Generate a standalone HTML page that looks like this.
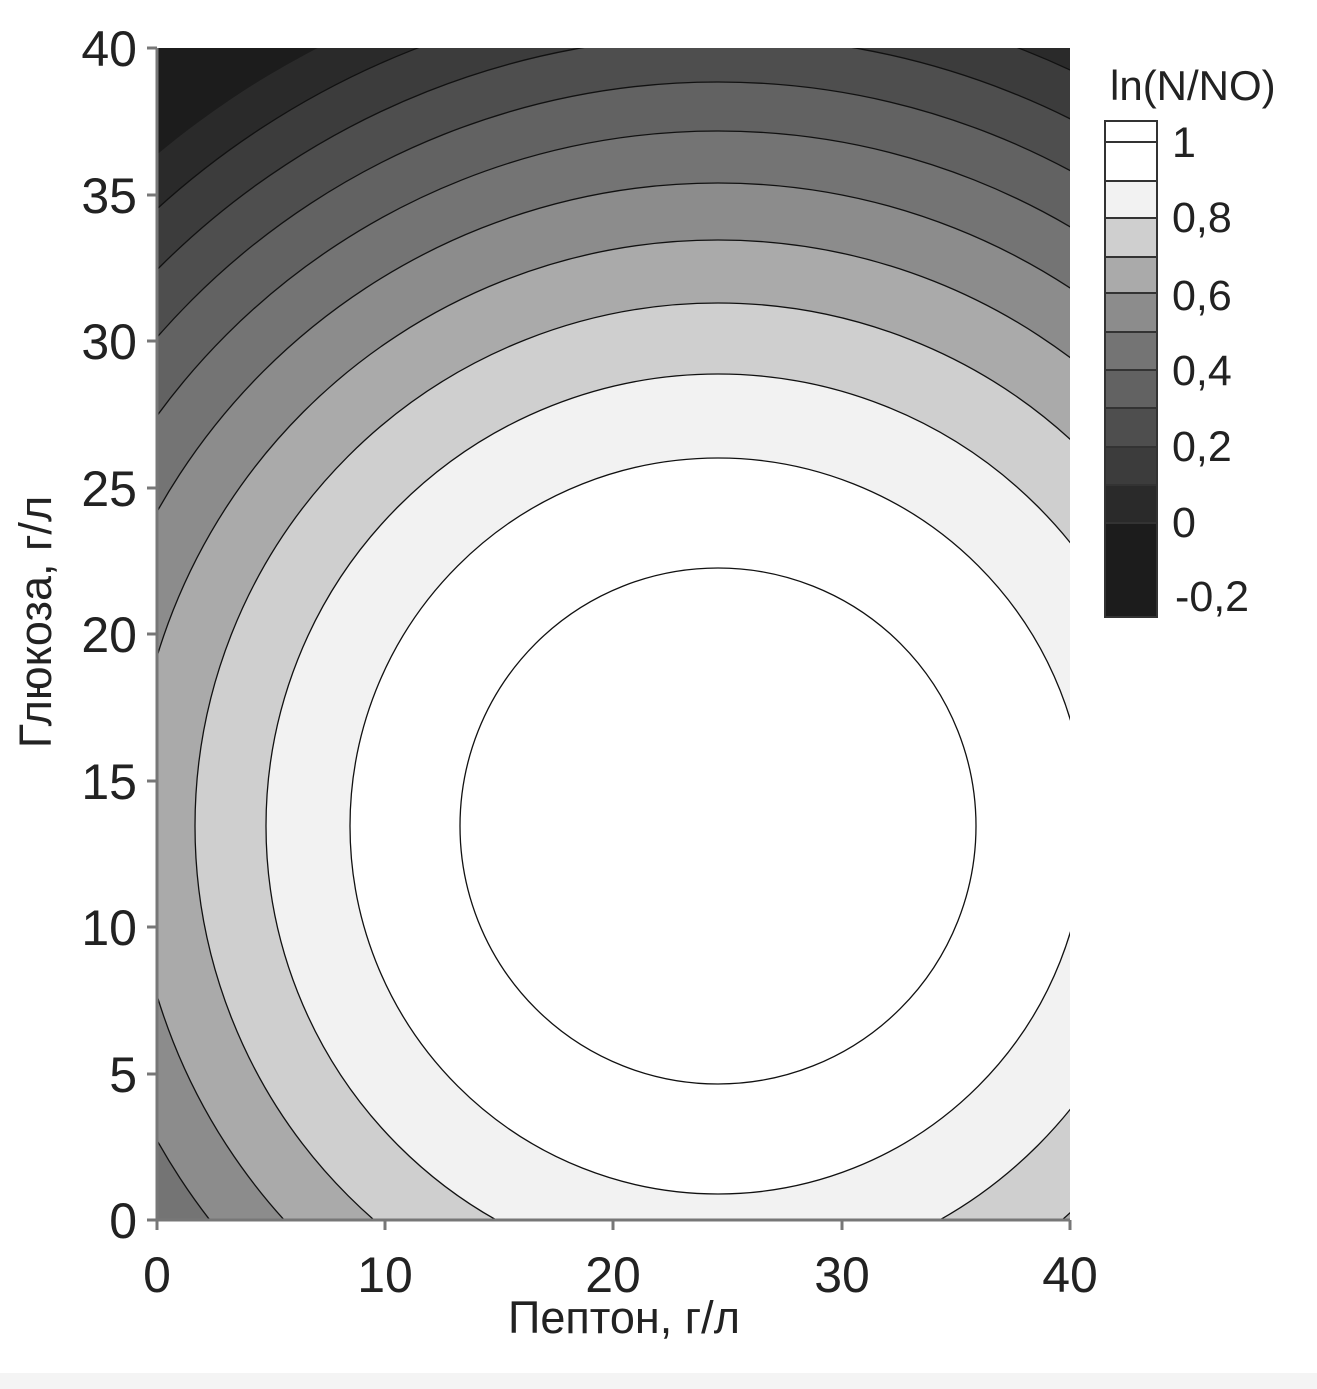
<!DOCTYPE html>
<html><head><meta charset="utf-8"><style>
html,body{margin:0;background:#fff;overflow:hidden;width:1317px;height:1389px;}
svg{display:block;font-family:"Liberation Sans",sans-serif;}
</style></head><body>
<svg width="1317" height="1389" viewBox="0 0 1317 1389">
<defs><clipPath id="c"><rect x="157" y="48" width="913" height="1172"/></clipPath></defs>
<g clip-path="url(#c)">
<rect x="157" y="48" width="913" height="1172" fill="#1c1c1c"/>
<circle cx="718" cy="826" r="875" fill="#2a2a2a"/>
<g stroke="#111" stroke-width="1.3">
<circle cx="718" cy="826" r="834" fill="#3c3c3c"/>
<circle cx="718" cy="826" r="790" fill="#4e4e4e"/>
<circle cx="718" cy="826" r="744" fill="#626262"/>
<circle cx="718" cy="826" r="695" fill="#747474"/>
<circle cx="718" cy="826" r="643" fill="#8c8c8c"/>
<circle cx="718" cy="826" r="586" fill="#aaaaaa"/>
<circle cx="718" cy="826" r="523" fill="#cfcfcf"/>
<circle cx="718" cy="826" r="452" fill="#f2f2f2"/>
<circle cx="718" cy="826" r="368" fill="#ffffff"/>
<circle cx="718" cy="826" r="258" fill="#ffffff"/>
</g>
</g>
<g stroke="#777" stroke-width="3">
<line x1="157" y1="48" x2="157" y2="1222"/>
<line x1="155" y1="1220" x2="1070" y2="1220"/>
<line x1="147" y1="48" x2="157" y2="48"/><line x1="147" y1="195" x2="157" y2="195"/>
<line x1="147" y1="341" x2="157" y2="341"/><line x1="147" y1="488" x2="157" y2="488"/>
<line x1="147" y1="634" x2="157" y2="634"/><line x1="147" y1="781" x2="157" y2="781"/>
<line x1="147" y1="927" x2="157" y2="927"/><line x1="147" y1="1074" x2="157" y2="1074"/>
<line x1="147" y1="1220" x2="157" y2="1220"/>
<line x1="157" y1="1220" x2="157" y2="1230"/><line x1="385" y1="1220" x2="385" y2="1230"/>
<line x1="613" y1="1220" x2="613" y2="1230"/><line x1="842" y1="1220" x2="842" y2="1230"/>
<line x1="1070" y1="1220" x2="1070" y2="1230"/>
</g>
<g font-size="50" fill="#222" text-anchor="end">
<text x="137" y="66">40</text><text x="137" y="213">35</text><text x="137" y="359">30</text>
<text x="137" y="506">25</text><text x="137" y="652">20</text><text x="137" y="799">15</text>
<text x="137" y="945">10</text><text x="137" y="1092">5</text><text x="137" y="1238">0</text>
</g>
<g font-size="50" fill="#222" text-anchor="middle">
<text x="157" y="1292">0</text><text x="385" y="1292">10</text><text x="613" y="1292">20</text>
<text x="842" y="1292">30</text><text x="1070" y="1292">40</text>
</g>
<g font-size="45" fill="#222" text-anchor="middle">
<text x="624" y="1333">Пептон, г/л</text>
<text transform="translate(51,622) rotate(-90)">Глюкоза, г/л</text>
</g>
<text x="1110" y="100" font-size="42" fill="#222">ln(N/NO)</text>
<g stroke="#333" stroke-width="2">
<rect x="1105" y="121" width="52" height="21" fill="#fff"/>
<rect x="1105" y="142" width="52" height="39" fill="#fff"/>
<rect x="1105" y="181" width="52" height="37" fill="#f2f2f2"/>
<rect x="1105" y="218" width="52" height="39" fill="#cfcfcf"/>
<rect x="1105" y="257" width="52" height="36" fill="#aaaaaa"/>
<rect x="1105" y="293" width="52" height="39" fill="#8c8c8c"/>
<rect x="1105" y="332" width="52" height="38" fill="#747474"/>
<rect x="1105" y="370" width="52" height="38" fill="#626262"/>
<rect x="1105" y="408" width="52" height="39" fill="#4e4e4e"/>
<rect x="1105" y="447" width="52" height="38" fill="#3c3c3c"/>
<rect x="1105" y="485" width="52" height="38" fill="#2a2a2a"/>
<rect x="1105" y="523" width="52" height="94" fill="#1c1c1c"/>
</g>
<g font-size="43" fill="#222">
<text x="1172" y="157">1</text><text x="1172" y="232">0,8</text><text x="1172" y="310">0,6</text>
<text x="1172" y="385">0,4</text><text x="1172" y="461">0,2</text><text x="1172" y="537">0</text>
<text x="1175" y="611">-0,2</text>
</g>
<rect x="0" y="1373" width="1317" height="16" fill="#f4f4f4"/>
</svg>
</body></html>
